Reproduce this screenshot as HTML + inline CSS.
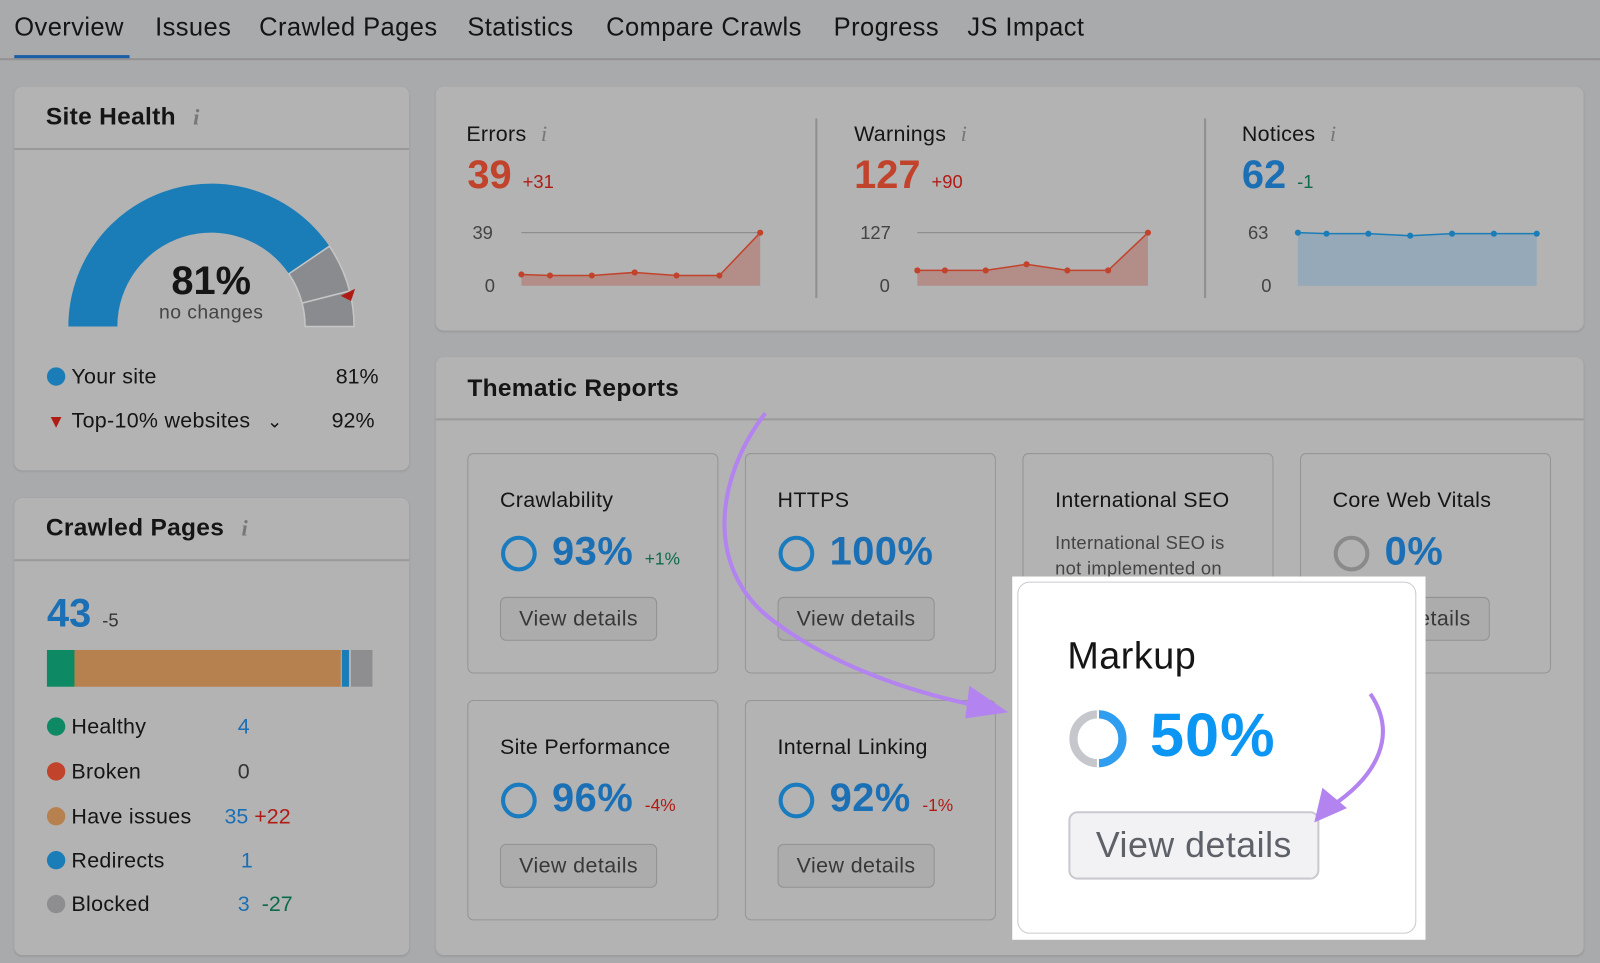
<!DOCTYPE html><html><head><meta charset="utf-8"><style>
html,body{margin:0;padding:0;width:1600px;height:963px;overflow:hidden;background:#a9aaac;font-family:"Liberation Sans",Arial,sans-serif;color:#151515}
#s{position:absolute;left:0;top:0;width:1568px;height:944px;transform:scale(1.0204);transform-origin:0 0}
.a{position:absolute}
.card{position:absolute;background:#b3b3b3;border-radius:8px;box-shadow:0 1px 2px rgba(0,0,0,.12)}
.tab{position:absolute;top:13px;font-size:25px;letter-spacing:0.4px;color:#151515}
.h{font-weight:bold;font-size:24px;letter-spacing:0.3px}
.i{color:#777;font-style:italic;font-family:"Liberation Serif",serif;font-size:22px}
.tc{position:absolute;border:1.5px solid #959595;border-radius:6px;width:244px;height:214px}
.tc .t{position:absolute;left:31px;top:34px;font-size:21px;letter-spacing:0.3px}
.tc .p{position:absolute;left:82px;top:74px;font-size:39px;font-weight:bold;color:#1a6fb5;letter-spacing:0.5px}
.tc .ring{position:absolute;left:32px;top:80px;width:27px;height:27px;border-radius:50%;border:4px solid #1a7bbf;box-sizing:content-box}
.btn{position:absolute;left:31px;top:140px;width:154px;height:43px;border:1.5px solid #919191;border-radius:6px;background:#acacac;font-size:21px;letter-spacing:0.4px;color:#383838;text-align:center;line-height:41px;box-sizing:border-box}
.leg{position:absolute;left:46px;font-size:21px;letter-spacing:0.3px}
.dot{display:inline-block;width:18px;height:18px;border-radius:50%;vertical-align:-2px;margin-right:6px}
</style></head><body><div id="s">
<div class="tab" style="left:14px">Overview</div>
<div class="a" style="left:14px;top:54px;width:113px;height:4px;background:#1a5fa6"></div>
<div class="tab" style="left:152px">Issues</div>
<div class="tab" style="left:254px">Crawled Pages</div>
<div class="tab" style="left:458px">Statistics</div>
<div class="tab" style="left:594px">Compare Crawls</div>
<div class="tab" style="left:817px">Progress</div>
<div class="tab" style="left:948px">JS Impact</div>
<div class="a" style="left:0;top:57px;width:1568px;height:1.5px;background:#929292"></div>

<div class="card" style="left:14px;top:85px;width:387px;height:376px">
<div class="a h" style="left:31px;top:16px">Site Health <span class="i" style="margin-left:10px">i</span></div>
<div class="a" style="left:0;top:60px;width:387px;height:1.5px;background:#9a9a9a"></div>
</div>
<svg class="a" style="left:0;top:0" width="420" height="340">
<path d="M67 320 A140 140 0 0 1 322.8 241.3 L283.1 268.3 A92 92 0 0 0 115 320Z" fill="#1b7db8"/>
<path d="M322.8 241.3 A140 140 0 0 1 342.6 285.2 L296.1 297.1 A92 92 0 0 0 283.1 268.3Z" fill="#8a8b8e" stroke="#c6c6c6" stroke-width="1.5"/>
<path d="M342.6 285.2 A140 140 0 0 1 347 320 L299 320 A92 92 0 0 0 296.1 297.1Z" fill="#8a8b8e" stroke="#c6c6c6" stroke-width="1.5"/>
<path d="M334 290 L348 283 L344 295 Z" fill="#b01c14"/>
</svg>
<div class="a" style="left:107px;top:254px;width:200px;text-align:center;font-size:39px;font-weight:bold">81%</div>
<div class="a" style="left:107px;top:296px;width:200px;text-align:center;font-size:19px;letter-spacing:0.4px;color:#444">no changes</div>
<div class="leg" style="top:358px"><span class="dot" style="background:#1b7db8"></span>Your site</div>
<div class="a" style="left:329px;top:358px;font-size:21px">81%</div>
<div class="leg" style="top:401px"><span style="color:#b01c14;font-size:18px;margin-right:6px">▼</span>Top-10% websites <span style="font-size:18px;margin-left:10px">⌄</span></div>
<div class="a" style="left:325px;top:401px;font-size:21px">92%</div>

<div class="card" style="left:14px;top:488px;width:387px;height:448px">
<div class="a h" style="left:31px;top:16px">Crawled Pages <span class="i" style="margin-left:10px">i</span></div>
<div class="a" style="left:0;top:60px;width:387px;height:1.5px;background:#9a9a9a"></div>
</div>
<div class="a" style="left:46px;top:580px;font-size:39px;font-weight:bold;color:#1a6fb5">43 <span style="font-size:18px;font-weight:normal;color:#333">-5</span></div>
<div class="a" style="left:46px;top:637px;width:27px;height:36px;background:#0d8a64"></div>
<div class="a" style="left:73px;top:637px;width:261px;height:36px;background:#b7814f"></div>
<div class="a" style="left:335px;top:637px;width:7px;height:36px;background:#1b7db8"></div>
<div class="a" style="left:344px;top:637px;width:21px;height:36px;background:#8e8e90"></div>
<div class="leg" style="top:701px"><span class="dot" style="background:#0d8a64"></span>Healthy</div><div class="a" style="left:233px;top:701px;font-size:21px;color:#1a6fb5">4</div>
<div class="leg" style="top:745px"><span class="dot" style="background:#c2432c"></span>Broken</div><div class="a" style="left:233px;top:745px;font-size:21px;color:#333">0</div>
<div class="leg" style="top:789px"><span class="dot" style="background:#b7814f"></span>Have issues</div><div class="a" style="left:220px;top:789px;font-size:21px;color:#1a6fb5">35 <span style="color:#b01c14">+22</span></div>
<div class="leg" style="top:832px"><span class="dot" style="background:#1b7db8"></span>Redirects</div><div class="a" style="left:236px;top:832px;font-size:21px;color:#1a6fb5">1</div>
<div class="leg" style="top:875px"><span class="dot" style="background:#8e8e90"></span>Blocked</div><div class="a" style="left:233px;top:875px;font-size:21px;color:#1a6fb5">3 <span style="color:#0b6b4a;margin-left:6px">-27</span></div>

<div class="card" style="left:427px;top:85px;width:1125px;height:239px"></div>
<div class="a" style="left:799px;top:116px;width:1.5px;height:176px;background:#8f8f8f"></div>
<div class="a" style="left:1180px;top:116px;width:1.5px;height:176px;background:#8f8f8f"></div>
<div class="a" style="left:457px;top:118px;font-size:21px;letter-spacing:0.3px">Errors <span class="i" style="margin-left:8px">i</span></div>
<div class="a" style="left:458px;top:150px;font-size:39px;font-weight:bold;color:#c2432c">39 <span style="font-size:18px;font-weight:normal;color:#b01c14">+31</span></div>
<div class="a" style="left:837px;top:118px;font-size:21px;letter-spacing:0.3px">Warnings <span class="i" style="margin-left:8px">i</span></div>
<div class="a" style="left:837px;top:150px;font-size:39px;font-weight:bold;color:#c2432c">127 <span style="font-size:18px;font-weight:normal;color:#b01c14">+90</span></div>
<div class="a" style="left:1217px;top:118px;font-size:21px;letter-spacing:0.3px">Notices <span class="i" style="margin-left:8px">i</span></div>
<div class="a" style="left:1217px;top:150px;font-size:39px;font-weight:bold;color:#1a6fb5">62 <span style="font-size:18px;font-weight:normal;color:#0b6b4a">-1</span></div>
<svg class="a" style="left:0;top:0" width="1568" height="300" font-family="Liberation Sans" font-size="18" fill="#444">
<text x="463" y="234">39</text><text x="475" y="286">0</text>
<text x="843" y="234">127</text><text x="862" y="286">0</text>
<text x="1223" y="234">63</text><text x="1236" y="286">0</text>
<g stroke="#8e8e8e" stroke-width="1.2"><line x1="511" y1="228" x2="745" y2="228"/><line x1="899" y1="228" x2="1125" y2="228"/></g>
<polygon points="511,269 539,270 580,270 622,267 663,270 705,270 745,228 745,280 511,280" fill="#b38e88"/>
<polyline points="511,269 539,270 580,270 622,267 663,270 705,270 745,228" fill="none" stroke="#c2432c" stroke-width="1.5"/>
<g fill="#c2432c"><circle cx="511" cy="269" r="3"/><circle cx="539" cy="270" r="3"/><circle cx="580" cy="270" r="3"/><circle cx="622" cy="267" r="3"/><circle cx="663" cy="270" r="3"/><circle cx="705" cy="270" r="3"/><circle cx="745" cy="228" r="3"/></g>
<polygon points="899,265 926,265 966,265 1006,259 1046,265 1086,265 1125,228 1125,280 899,280" fill="#b38e88"/>
<polyline points="899,265 926,265 966,265 1006,259 1046,265 1086,265 1125,228" fill="none" stroke="#c2432c" stroke-width="1.5"/>
<g fill="#c2432c"><circle cx="899" cy="265" r="3"/><circle cx="926" cy="265" r="3"/><circle cx="966" cy="265" r="3"/><circle cx="1006" cy="259" r="3"/><circle cx="1046" cy="265" r="3"/><circle cx="1086" cy="265" r="3"/><circle cx="1125" cy="228" r="3"/></g>
<polygon points="1272,228 1300,229 1341,229 1382,231 1423,229 1464,229 1506,229 1506,280 1272,280" fill="#95a9b8"/>
<polyline points="1272,228 1300,229 1341,229 1382,231 1423,229 1464,229 1506,229" fill="none" stroke="#1b7db8" stroke-width="1.5"/>
<g fill="#1b7db8"><circle cx="1272" cy="228" r="3"/><circle cx="1300" cy="229" r="3"/><circle cx="1341" cy="229" r="3"/><circle cx="1382" cy="231" r="3"/><circle cx="1423" cy="229" r="3"/><circle cx="1464" cy="229" r="3"/><circle cx="1506" cy="229" r="3"/></g>
</svg>

<div class="card" style="left:427px;top:350px;width:1125px;height:586px">
<div class="a h" style="left:31px;top:17px">Thematic Reports</div>
<div class="a" style="left:0;top:60px;width:1125px;height:1.5px;background:#9a9a9a"></div>
</div>
<div class="tc" style="left:458px;top:444px"><div class="t">Crawlability</div><div class="ring"></div><div class="p">93% <span style="font-size:17px;font-weight:normal;color:#0b6b4a;letter-spacing:0">+1%</span></div><div class="btn">View details</div></div>
<div class="tc" style="left:730px;top:444px"><div class="t">HTTPS</div><div class="ring"></div><div class="p">100%</div><div class="btn">View details</div></div>
<div class="tc" style="left:1002px;top:444px"><div class="t">International SEO</div><div class="a" style="left:31px;top:75px;font-size:18px;letter-spacing:0.3px;color:#444;line-height:25px">International SEO is<br>not implemented on</div></div>
<div class="tc" style="left:1274px;top:444px"><div class="t">Core Web Vitals</div><div class="ring" style="border-color:#8a8a8a"></div><div class="p">0%</div><div class="btn">View details</div></div>
<div class="tc" style="left:458px;top:686px"><div class="t">Site Performance</div><div class="ring"></div><div class="p">96% <span style="font-size:17px;font-weight:normal;color:#b01c14;letter-spacing:0">-4%</span></div><div class="btn">View details</div></div>
<div class="tc" style="left:730px;top:686px"><div class="t">Internal Linking</div><div class="ring"></div><div class="p">92% <span style="font-size:17px;font-weight:normal;color:#b01c14;letter-spacing:0">-1%</span></div><div class="btn">View details</div></div>

<div class="a" style="left:992px;top:565px;width:405px;height:356px;background:#fff"></div>
<div class="a" style="left:997px;top:570px;width:391px;height:345px;border:1.5px solid #c9cad0;border-radius:12px;box-sizing:border-box"></div>
<div class="a" style="left:1046px;top:622px;font-size:37px;letter-spacing:0.5px;color:#151515">Markup</div>
<svg class="a" style="left:1046px;top:694px" width="60" height="60"><circle cx="30" cy="30" r="24" fill="none" stroke="#c5c7cc" stroke-width="8"/><path d="M30 6 A24 24 0 0 1 30 54" fill="none" stroke="#2f9ef0" stroke-width="8"/><line x1="30" y1="2" x2="30" y2="58" stroke="#fff" stroke-width="2"/></svg>
<div class="a" style="left:1127px;top:686px;font-size:60px;font-weight:bold;letter-spacing:1px;color:#0a96f2">50%</div>
<div class="a" style="left:1047px;top:795px;width:246px;height:67px;border:2px solid #c9cad0;border-radius:9px;background:#f2f2f5;box-sizing:border-box;text-align:center;line-height:63px;font-size:35px;letter-spacing:0.5px;color:#5f6168">View details</div>

<svg class="a" style="left:0;top:0" width="1568" height="944">
<path d="M750 405 C700 470 690 560 760 610 C820 655 900 680 960 692" fill="none" stroke="#b383f0" stroke-width="4"/>
<path d="M950 672 L988 698 L946 704 Z" fill="#b383f0"/>
<path d="M1343 680 C1370 720 1350 760 1305 790" fill="none" stroke="#b383f0" stroke-width="4"/>
<path d="M1288 806 L1296 772 L1320 792 Z" fill="#b383f0"/>
</svg>
</div></body></html>
